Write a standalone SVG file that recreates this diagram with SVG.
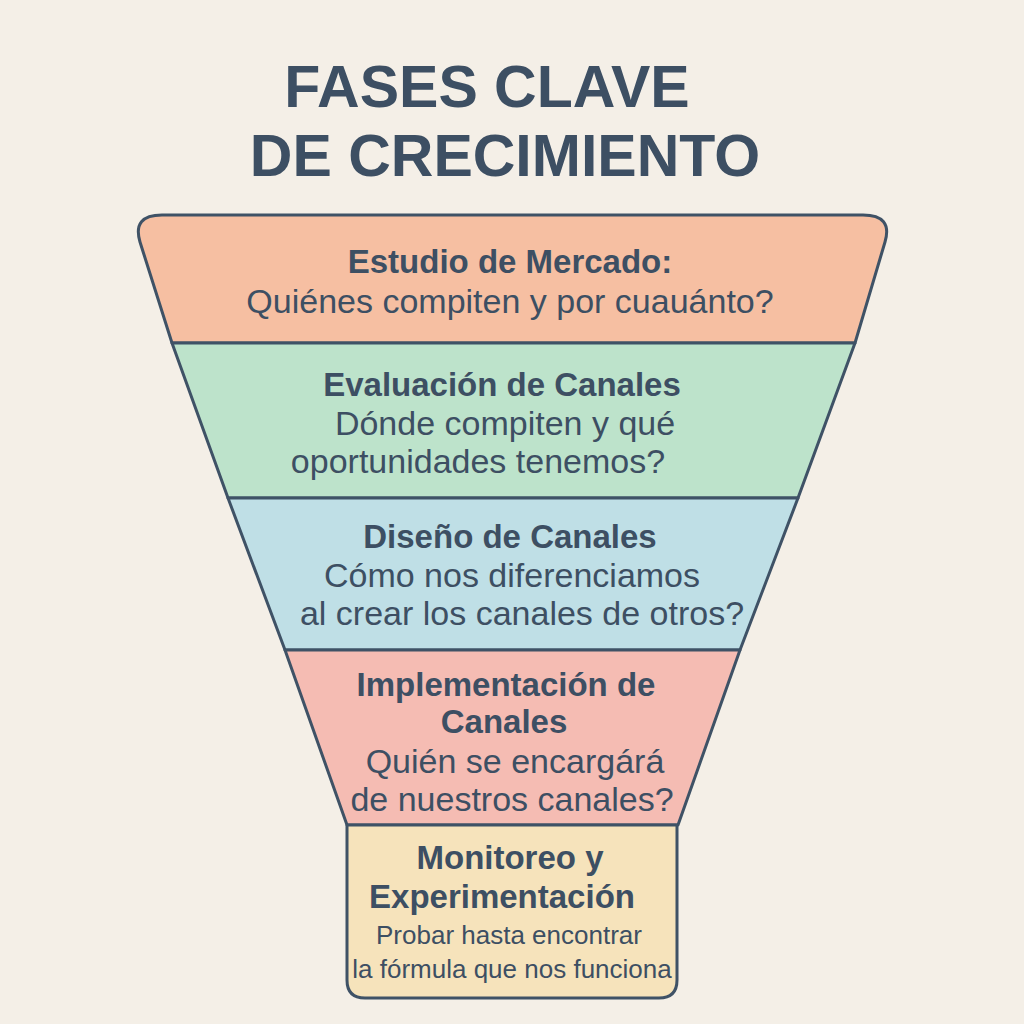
<svg xmlns="http://www.w3.org/2000/svg" width="1024" height="1024" viewBox="0 0 1024 1024">
<style>
.band{stroke:#3f5266;stroke-width:3;stroke-linejoin:round}
text{font-family:"Liberation Sans","DejaVu Sans",sans-serif;fill:#3d4f63;text-anchor:middle}
.t{font-size:59px;font-weight:bold}
.b{font-size:33px;font-weight:bold}
.r{font-size:34px}
.b2{font-size:33px;font-weight:bold}
.r2{font-size:26px}
</style>
<rect width="1024" height="1024" fill="#f4efe7"/>
<g id="title">
<text class="t" x="487" y="107">FASES CLAVE</text>
<text class="t" x="505" y="176">DE CRECIMIENTO</text>
</g>
<g id="n1">
<path class="band" fill="#f6bfa2" d="M140,242 Q132,215 162,215 L863,215 Q893,215 885,242 L855,343 L172,343 Z"/>
<text class="b" x="510" y="273">Estudio de Mercado:</text>
<text class="r" x="510" y="313">Quiénes compiten y por cuauánto?</text>
</g>
<g id="n2">
<path class="band" fill="#bde3cb" d="M172,343 L855,343 L798,498 L228,498 Z"/>
<text class="b" x="502" y="396">Evaluación de Canales</text>
<text class="r" x="505" y="435">Dónde compiten y qué</text>
<text class="r" x="478" y="473">oportunidades tenemos?</text>
</g>
<g id="n3">
<path class="band" fill="#bfdfe6" d="M228,498 L798,498 L740,650 L285,650 Z"/>
<text class="b" x="510" y="548">Diseño de Canales</text>
<text class="r" x="512" y="587">Cómo nos diferenciamos</text>
<text class="r" x="522" y="625">al crear los canales de otros?</text>
</g>
<g id="n4">
<path class="band" fill="#f5bcb3" d="M285,650 L740,650 L678,825 L347,825 Z"/>
<text class="b" x="506" y="696">Implementación de</text>
<text class="b" x="504" y="733">Canales</text>
<text class="r" x="515" y="773">Quién se encargárá</text>
<text class="r" x="512" y="811">de nuestros canales?</text>
</g>
<g id="n5">
<path class="band" fill="#f6e3bb" d="M347,825 L677,825 L677,980 Q677,998 659,998 L365,998 Q347,998 347,980 Z"/>
<text class="b2" x="510" y="869">Monitoreo y</text>
<text class="b2" x="502" y="908">Experimentación</text>
<text class="r2" x="509" y="944">Probar hasta encontrar</text>
<text class="r2" x="512" y="978">la fórmula que nos funciona</text>
</g>
<g id="connectors"/>
</svg>
